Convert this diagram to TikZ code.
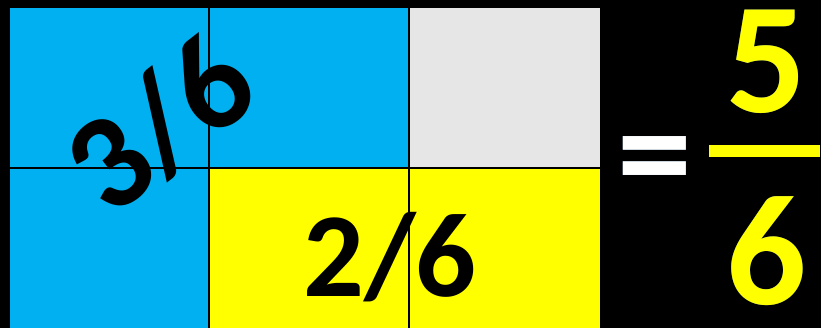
\documentclass[tikz,border=0pt]{standalone}
\usepackage{fontspec}
\usepackage[outline]{contour}
\contourlength{1.3pt}
\newfontfamily\calfont{Carlito}
\definecolor{cellblue}{RGB}{0,176,240}
\definecolor{cellgray}{RGB}{230,230,230}
\definecolor{cellyellow}{RGB}{255,255,0}
\definecolor{glow}{RGB}{80,120,160}
\tikzset{
  gridline/.style={draw=black,line width=2pt},
  fractext/.style={font=\calfont\bfseries\fontsize{120}{120}\selectfont,text=black,inner sep=0pt},
  restext/.style={font=\calfont\bfseries\fontsize{158}{158}\selectfont,text=cellyellow,inner sep=0pt},
}
\begin{document}
\begin{tikzpicture}[x=1pt,y=-1pt]
\fill[black] (0,0) rectangle (821,328);
\useasboundingbox (0,0) rectangle (821,328);
% cells
\fill[cellblue] (10,8) rectangle (409,168);
\fill[cellblue] (10,168) rectangle (209,328);
\fill[cellgray] (409,8) rectangle (600,168);
\fill[cellyellow] (209,168) rectangle (600,328);
% grid lines
\draw[gridline] (209,8) -- (209,328);
\draw[gridline] (409,8) -- (409,328);
\draw[gridline] (10,168) -- (600,168);
% labels
\node[fractext,font=\calfont\bfseries\fontsize{136}{136}\selectfont,rotate=38] (a) at (160,124) {3/6};
\node[fractext] (b) at (390,257) {2/6};
\node[font=\calfont\bfseries\fontsize{150}{150}\selectfont,text=white,inner sep=0pt] (eq) at (655,170) {\contour{glow}{=}};
\node[restext] (n) at (767,62) {\contour{glow}{5}};
\fill[cellyellow] (709,145) rectangle (820,157);
\node[restext] (d) at (767,251) {\contour{glow}{6}};
\end{tikzpicture}
\end{document}
